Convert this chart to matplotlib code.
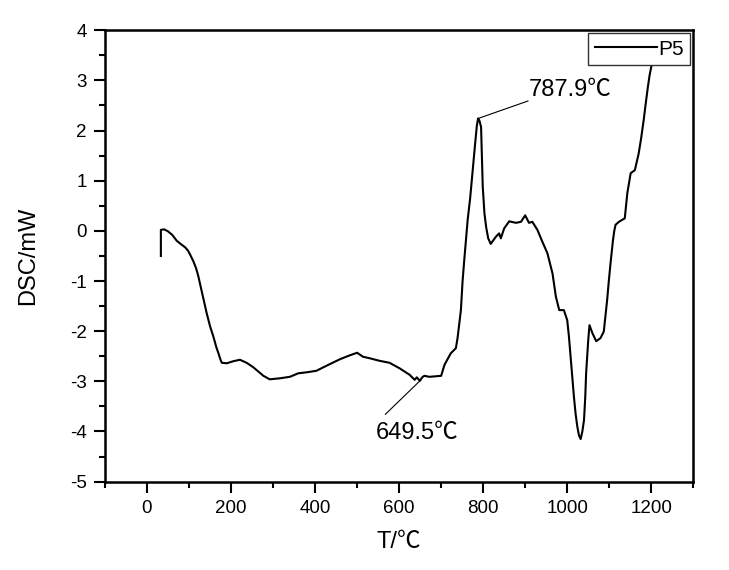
import matplotlib
matplotlib.use('Agg')
import matplotlib.pyplot as plt
from matplotlib.ticker import MultipleLocator

plt.rcParams['font.family'] = ['Liberation Sans', 'Noto Sans CJK SC', 'DejaVu Sans']
plt.rcParams['axes.unicode_minus'] = False

# DSC curve
temp = [33, 33, 41, 50, 60, 71, 80, 91, 98, 103, 110, 117, 122, 130, 142, 150, 158,
        165, 170, 175, 178, 190, 205, 221, 237, 253, 277, 292, 316, 340, 360, 380,
        403, 427, 459, 480, 500, 514, 530, 553, 577, 601, 625, 637, 642, 649.5, 655,
        660, 672, 700, 708, 723, 735, 739, 747, 751, 755, 763, 769, 775, 781, 785,
        787.9, 791, 795, 797, 799, 803, 807, 812, 818, 830, 838, 842, 850, 862, 878,
        890, 900, 909, 917, 929, 940, 953, 965, 973, 981, 992, 1000, 1004, 1008,
        1012, 1016, 1020, 1024, 1028, 1032, 1036, 1040, 1043, 1045, 1048, 1050,
        1053, 1056, 1060, 1069, 1079, 1087, 1095, 1099, 1103, 1109, 1112, 1115,
        1123, 1131, 1137, 1143, 1151, 1161, 1170, 1176, 1182, 1187, 1192, 1196, 1200]
dsc = [-0.50, 0.02, 0.03, -0.01, -0.08, -0.20, -0.26, -0.33, -0.40, -0.48, -0.60,
       -0.75, -0.90, -1.20, -1.64, -1.90, -2.11, -2.32, -2.44, -2.57, -2.63, -2.64,
       -2.60, -2.57, -2.63, -2.72, -2.89, -2.96, -2.94, -2.91, -2.84, -2.82, -2.79,
       -2.69, -2.56, -2.49, -2.43, -2.51, -2.54, -2.59, -2.63, -2.74, -2.87, -2.97,
       -2.92, -2.99, -2.92, -2.89, -2.91, -2.89, -2.67, -2.44, -2.34, -2.14, -1.58,
       -1.00, -0.58, 0.21, 0.65, 1.21, 1.75, 2.10, 2.24, 2.20, 2.07, 1.50, 0.88,
       0.35, 0.08, -0.15, -0.26, -0.12, -0.05, -0.15, 0.05, 0.19, 0.16, 0.18, 0.31,
       0.16, 0.18, 0.02, -0.20, -0.45, -0.85, -1.31, -1.58, -1.58, -1.78, -2.10,
       -2.51, -2.90, -3.31, -3.65, -3.90, -4.08, -4.15, -4.00, -3.77, -3.30, -2.84,
       -2.45, -2.18, -1.88, -1.95, -2.04, -2.20, -2.14, -2.01, -1.38, -1.00, -0.65,
       -0.18, 0.00, 0.12, 0.18, 0.22, 0.25, 0.75, 1.15, 1.21, 1.54, 1.85, 2.21,
       2.55, 2.87, 3.10, 3.27]

peak_labels = ['787.9℃', '649.5℃']
peak_xy = [(787.9, 2.24), (649.5, -2.99)]

fig = plt.figure(figsize=(7.29, 5.70), dpi=100)
ax = fig.add_axes([0.144, 0.155, 0.807, 0.792])

ax.plot(temp, dsc, color='black', lw=1.5, label='P5')

# leader lines and labels
ax.annotate('', xy=peak_xy[0], xytext=(907, 2.59),
            arrowprops=dict(arrowstyle='-', lw=0.8, color='black', shrinkA=0, shrinkB=0))
ax.text(909, 2.58, peak_labels[0], fontsize=17, ha='left', va='bottom')
ax.annotate('', xy=peak_xy[1], xytext=(567, -3.66),
            arrowprops=dict(arrowstyle='-', lw=0.8, color='black', shrinkA=0, shrinkB=0))
ax.text(545, -4.03, peak_labels[1], fontsize=17, ha='left', va='center')

ax.set_xlim(-100, 1300)
ax.set_ylim(-5, 4)
ax.xaxis.set_major_locator(MultipleLocator(200))
ax.xaxis.set_minor_locator(MultipleLocator(100))
ax.yaxis.set_major_locator(MultipleLocator(1))
ax.yaxis.set_minor_locator(MultipleLocator(0.5))
ax.tick_params(which='major', direction='out', length=8, width=1.5, labelsize=13.5, pad=5)
ax.tick_params(which='minor', direction='out', length=4, width=1.5)
for s in ax.spines.values():
    s.set_linewidth(1.8)

ax.set_xlabel('T/℃', fontsize=17, labelpad=10)
ax.set_ylabel('DSC/mW', fontsize=17, labelpad=22)

leg = ax.legend(loc='upper right', fontsize=15, frameon=True, fancybox=False,
                edgecolor='black', borderpad=0.3, handlelength=3.0, handletextpad=0.05,
                borderaxespad=0.15)
leg.get_frame().set_linewidth(1.0)

fig.savefig('out.png', dpi=100)
